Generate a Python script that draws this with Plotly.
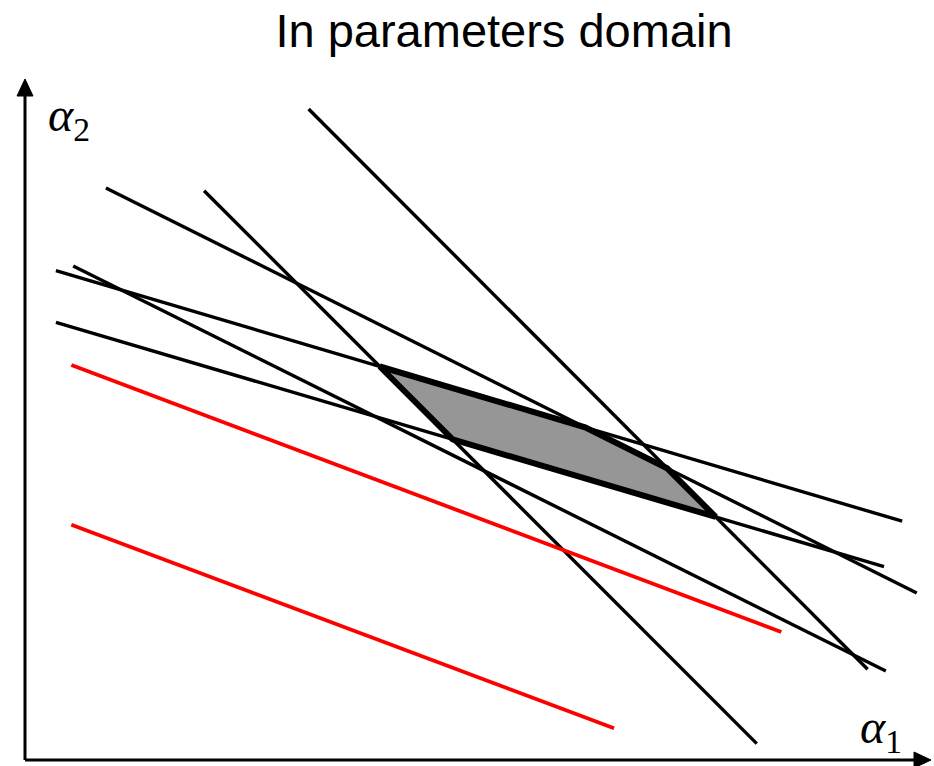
import plotly.graph_objects as go

# Constraint lines in the (alpha1, alpha2) parameter plane: endpoints of each segment
black_x0 = [0.34, 0.34, 0.53, 0.89, 3.12, 1.97]
black_y0 = [5.39, 4.82, 5.44, 6.30, 7.17, 6.27]
black_x1 = [9.65, 9.45, 9.47, 9.81, 9.27, 8.05]
black_y1 = [2.63, 2.13, 0.98, 1.84, 1.00, 0.18]

red_x0 = [0.51, 0.51]
red_y0 = [4.35, 2.59]
red_x1 = [8.32, 6.48]
red_y1 = [1.41, 0.35]

# Feasible region: bounded by lines (index) in this order around its boundary
region_edges = [5, 0, 3, 4, 1]

title_text = "In parameters domain"
x_label = "<i>α</i><sub>1</sub>"
y_label = "<i>α</i><sub>2</sub>"


def intersect(i, j):
    ax, ay, bx, by = black_x0[i], black_y0[i], black_x1[i], black_y1[i]
    cx, cy, dx, dy = black_x0[j], black_y0[j], black_x1[j], black_y1[j]
    r = (bx - ax, by - ay)
    s = (dx - cx, dy - cy)
    den = r[0] * s[1] - r[1] * s[0]
    t = ((cx - ax) * s[1] - (cy - ay) * s[0]) / den
    return ax + t * r[0], ay + t * r[1]


poly_x, poly_y = [], []
for k in range(len(region_edges)):
    px, py = intersect(region_edges[k], region_edges[(k + 1) % len(region_edges)])
    poly_x.append(px)
    poly_y.append(py)
poly_x.append(poly_x[0])
poly_y.append(poly_y[0])

fig = go.Figure()

fig.add_trace(go.Scatter(
    x=poly_x, y=poly_y, mode="lines", fill="toself",
    fillcolor="#969696", line=dict(color="black", width=6),
    hoverinfo="skip", showlegend=False,
))

for x0, y0, x1, y1 in zip(black_x0, black_y0, black_x1, black_y1):
    fig.add_trace(go.Scatter(
        x=[x0, x1], y=[y0, y1], mode="lines",
        line=dict(color="black", width=3.4), showlegend=False,
    ))

for x0, y0, x1, y1 in zip(red_x0, red_y0, red_x1, red_y1):
    fig.add_trace(go.Scatter(
        x=[x0, x1], y=[y0, y1], mode="lines",
        line=dict(color="#ff0000", width=3.8), showlegend=False,
    ))

W, H = 934, 766
ml, mr, mt, mb = 25, 0, 79, 6
pw, ph = W - ml - mr, H - mt - mb
x_tip = (931 - ml) / pw

hidden = dict(showgrid=False, zeroline=False, showticklabels=False,
              showline=False, ticks="", fixedrange=True)

shapes = [
    # axis lines
    dict(type="line", xref="paper", yref="paper", x0=0, y0=0, x1=0, y1=1 - 14 / ph,
         line=dict(color="black", width=3)),
    dict(type="line", xref="paper", yref="paper", x0=0, y0=0, x1=x_tip - 14 / pw, y1=0,
         line=dict(color="black", width=3)),
    # arrow heads
    dict(type="path", xref="paper", yref="paper", xsizemode="pixel", ysizemode="pixel",
         xanchor=0, yanchor=1, path="M -8 -17 L 0 0 L 8 -17 Z",
         fillcolor="black", line=dict(color="black", width=1)),
    dict(type="path", xref="paper", yref="paper", xsizemode="pixel", ysizemode="pixel",
         xanchor=x_tip, yanchor=0, path="M -17 -8 L 0 0 L -17 8 Z",
         fillcolor="black", line=dict(color="black", width=1)),
]

annotations = [
    dict(xref="paper", yref="paper", x=(46 - ml) / pw, y=1 - (118 - 79) / ph,
         text=y_label, showarrow=False, xanchor="left", yanchor="middle",
         font=dict(family="Liberation Serif", size=48, color="black")),
    dict(xref="paper", yref="paper", x=(858 - ml) / pw, y=(760 - 730) / ph,
         text=x_label, showarrow=False, xanchor="left", yanchor="middle",
         font=dict(family="Liberation Serif", size=48, color="black")),
]

fig.update_layout(
    width=W, height=H,
    margin=dict(l=ml, r=mr, t=mt, b=mb),
    paper_bgcolor="white", plot_bgcolor="white",
    title=dict(text=title_text, x=504 / W, xanchor="center",
               y=1 - 31 / H, yanchor="middle", xref="container", yref="container",
               font=dict(family="Arial", size=47, color="black")),
    xaxis=dict(range=[0, 10], **hidden),
    yaxis=dict(range=[0, 7.5], **hidden),
    shapes=shapes,
    annotations=annotations,
    showlegend=False,
)

fig.write_html("out.html", config={"displayModeBar": False})
